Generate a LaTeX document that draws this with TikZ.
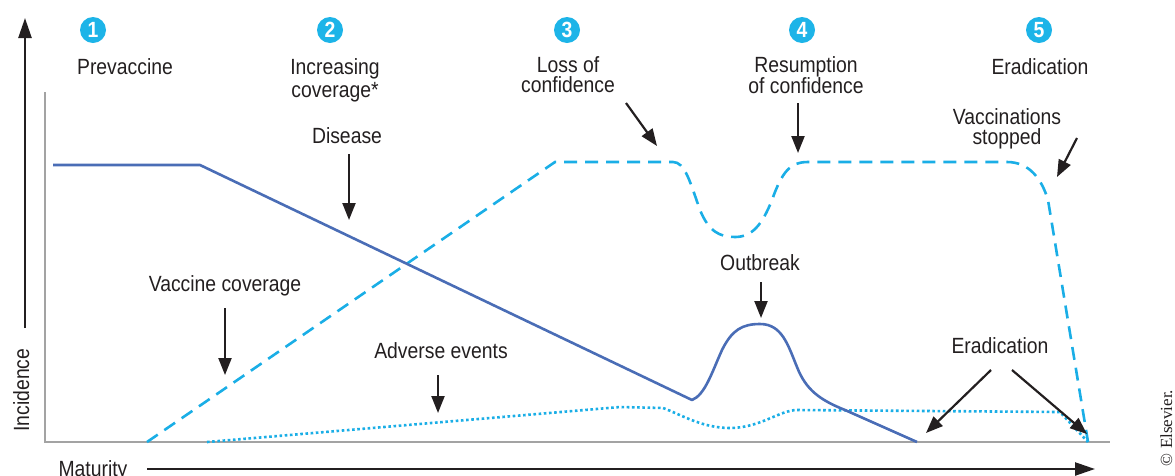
\documentclass[tikz,border=0pt]{standalone}
\usepackage{fontspec}
\setmainfont{Liberation Sans}[FakeStretch=0.88]
\newfontfamily\serifcr{Liberation Serif}
\usetikzlibrary{arrows.meta}
\definecolor{txt}{HTML}{231F20}
\definecolor{cyanc}{HTML}{1DB4E8}
\definecolor{cyanl}{HTML}{1AAEE6}
\definecolor{disblue}{HTML}{4A6DB6}
\definecolor{framegray}{HTML}{A3A3A3}
\tikzset{
  lbl/.style={text=txt, inner sep=0pt, font=\fontsize{22}{20}\selectfont},
  lbl2/.style={lbl, align=center, anchor=north},
  num/.style={circle, fill=cyanc, minimum size=26pt, inner sep=0pt, text=white, font=\fontsize{22}{22}\selectfont\bfseries},
  ptr/.style={draw=txt, line width=2.2pt, -{Triangle[length=17pt,width=13pt]}},
  axis/.style={draw=txt, line width=2.4pt, -{Triangle[length=20pt,width=13pt]}},
  frame/.style={draw=framegray, line width=2pt},
  disease/.style={draw=disblue, line width=2.6pt, line join=round},
  vacc/.style={draw=cyanl, line width=2.6pt, dash pattern=on 13pt off 8pt},
  adverse/.style={draw=cyanl, line width=2.6pt, dash pattern=on 2.6pt off 2.6pt},
}
\begin{document}
\begin{tikzpicture}[x=1pt,y=-1pt]
\useasboundingbox (0,0) rectangle (1175,475);
% frame
\coordinate (ftop) at (45,92);
\coordinate (forig) at (45,442);
\coordinate (fend) at (1110,442);
\draw[frame] (ftop) -- (forig) -- (fend);
% axes
\coordinate (ya) at (25,328);
\coordinate (yb) at (25,18);
\draw[axis] (ya) -- (yb);
\coordinate (xa) at (147,469);
\coordinate (xb) at (1095,469);
\draw[axis] (xa) -- (xb);
\node[lbl, anchor=base, rotate=90] (incid) at (29,390) {Incidence};
\node[lbl, anchor=base] (matur) at (93,476) {Maturity};
% numbered circles
\node[num] (n1) at (93,30) {1};
\node[num] (n2) at (330,30) {2};
\node[num] (n3) at (567,30) {3};
\node[num] (n4) at (802,30) {4};
\node[num] (n5) at (1039,30) {5};
% phase labels
\node[lbl, anchor=base] (p1) at (125,74) {Prevaccine};
\node[lbl2, font=\fontsize{22}{23}\selectfont] (p2) at (335,58) {Increasing\\coverage*};
\node[lbl2, font=\fontsize{22}{20}\selectfont] (p3) at (568,56) {Loss of\\confidence};
\node[lbl2, font=\fontsize{22}{20}\selectfont] (p4) at (806,56) {Resumption\\of confidence};
\node[lbl, anchor=base] (p5) at (1040,74) {Eradication};
% curves
\draw[vacc] (147,442) -- (555,162) -- (673,162)
  .. controls (685,162) and (690,182) .. (700,210)
  .. controls (709,232) and (720,237) .. (735,237)
  .. controls (752,237) and (762,225) .. (772,200)
  .. controls (782,172) and (790,162) .. (808,162)
  -- (1007,162) .. controls (1030,162) and (1042,180) .. (1048,200) -- (1088,442);
\draw[adverse] (207,442) -- (620,407) -- (663,408)
  .. controls (682,415) and (702,428) .. (730,428)
  .. controls (760,428) and (780,410) .. (797,410) -- (1060,412) -- (1088,442);
\draw[disease] (53,165) -- (200,165) -- (692,400)
  .. controls (705,395) and (712,372) .. (722,350)
  .. controls (732,330) and (742,324) .. (760,324)
  .. controls (782,324) and (788,345) .. (797,367)
  .. controls (806,390) and (820,400) .. (845,410) -- (917,442);
% annotations
\node[lbl, anchor=base] (ldis) at (347,143) {Disease};
\coordinate (dis1) at (349,154); \coordinate (dis2) at (349,220);
\draw[ptr] (dis1) -- (dis2);
\node[lbl, anchor=base] (lvac) at (225,291) {Vaccine coverage};
\coordinate (vac1) at (225,308); \coordinate (vac2) at (225,375);
\draw[ptr] (vac1) -- (vac2);
\node[lbl, anchor=base] (ladv) at (441,358) {Adverse events};
\coordinate (adv1) at (438,375); \coordinate (adv2) at (438,413);
\draw[ptr] (adv1) -- (adv2);
\node[lbl, anchor=base] (lout) at (760,270) {Outbreak};
\coordinate (out1) at (761,282); \coordinate (out2) at (761,318);
\draw[ptr] (out1) -- (out2);
\coordinate (loss1) at (626,103); \coordinate (loss2) at (657,146);
\draw[ptr] (loss1) -- (loss2);
\coordinate (res1) at (798,103); \coordinate (res2) at (798,153);
\draw[ptr] (res1) -- (res2);
\node[lbl2, font=\fontsize{22}{20}\selectfont] (lvs) at (1007,108) {Vaccinations\\stopped};
\coordinate (vs1) at (1077,138); \coordinate (vs2) at (1057,177);
\draw[ptr] (vs1) -- (vs2);
\node[lbl, anchor=base] (lera) at (1000,353) {Eradication};
\coordinate (era1) at (991,370); \coordinate (era2) at (926,433);
\coordinate (era3) at (1012,370); \coordinate (era4) at (1087,434);
\draw[ptr] (era1) -- (era2);
\draw[ptr] (era3) -- (era4);
% copyright
\node[anchor=base, rotate=90, inner sep=0pt, text=txt, font=\serifcr\fontsize{17}{17}\selectfont] (copy) at (1172,428) {\textcopyright\ Elsevier.};
\end{tikzpicture}
\end{document}
